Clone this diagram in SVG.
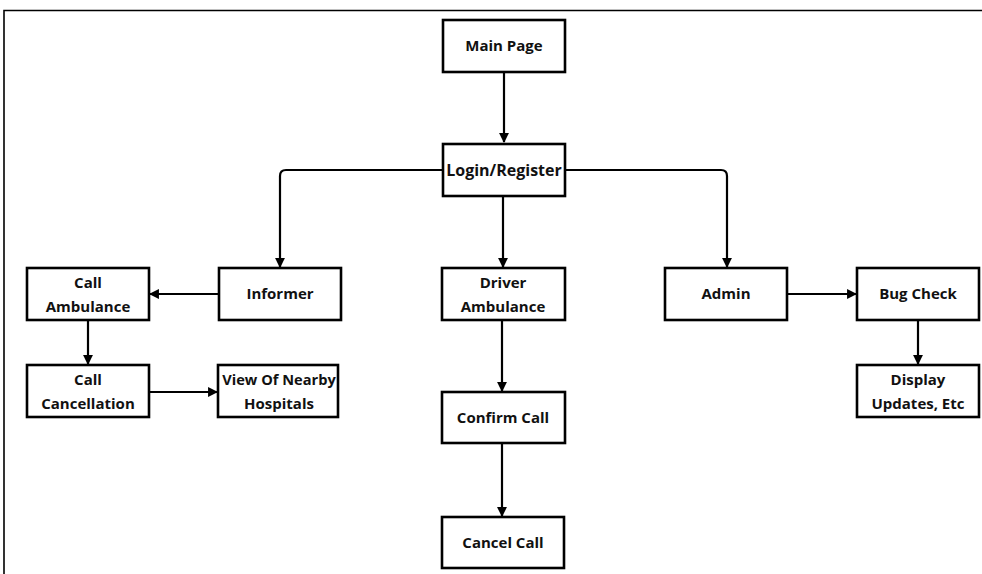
<svg xmlns="http://www.w3.org/2000/svg" width="982" height="574" viewBox="0 0 982 574">
<defs>
<marker id="ah" viewBox="0 0 10 10" refX="9" refY="5" markerWidth="4.5" markerHeight="4.5" orient="auto" markerUnits="strokeWidth">
<path d="M0,0 L10,5 L0,10 z" fill="#000"/>
</marker>
</defs>
<style>
.box{fill:#fff;stroke:#000;stroke-width:2.6}
.t{font-family:"Open Sans","Liberation Sans",sans-serif;font-weight:bold;font-size:15px;fill:#111;text-anchor:middle}
.c{fill:none;stroke:#000;stroke-width:2.2;marker-end:url(#ah)}
.f{fill:none;stroke:#000;stroke-width:1.6}
</style>
<rect width="982" height="574" fill="#fff"/>
<path class="f" d="M4,574 V10.5 H982"/>
<g id="connectors">
<path class="c" d="M504,72 V142"/>
<path class="c" d="M443,170 H286 Q280,170 280,176 V267"/>
<path class="c" d="M565,170 H721 Q727,170 727,176 V267"/>
<path class="c" d="M503,196 V267"/>
<path class="c" d="M218,294 H150"/>
<path class="c" d="M88,320 V364"/>
<path class="c" d="M149,392 H217"/>
<path class="c" d="M502,320 V391"/>
<path class="c" d="M502,443 V516"/>
<path class="c" d="M787,294 H856"/>
<path class="c" d="M918,320 V364"/>
</g>
<g id="main-page"><rect class="box" x="443" y="20" width="122" height="52"/><text class="t" x="504" y="51">Main Page</text></g>
<g id="login-register"><rect class="box" x="443" y="144" width="122" height="52"/><text class="t" x="504" y="175.5" style="font-size:16px">Login/Register</text></g>
<g id="informer"><rect class="box" x="219" y="268" width="122" height="52"/><text class="t" x="280" y="299">Informer</text></g>
<g id="call-ambulance"><rect class="box" x="27" y="268" width="122" height="52"/><text class="t" x="88" y="288">Call</text><text class="t" x="88" y="312">Ambulance</text></g>
<g id="call-cancellation"><rect class="box" x="27" y="365" width="122" height="52"/><text class="t" x="88" y="385">Call</text><text class="t" x="88" y="409">Cancellation</text></g>
<g id="view-hospitals"><rect class="box" x="218" y="365" width="120" height="52"/><text class="t" x="279" y="385" style="font-size:14.6px">View Of Nearby</text><text class="t" x="279" y="409">Hospitals</text></g>
<g id="driver-ambulance"><rect class="box" x="442" y="268" width="123" height="52"/><text class="t" x="503" y="288">Driver</text><text class="t" x="503" y="312">Ambulance</text></g>
<g id="confirm-call"><rect class="box" x="442" y="392" width="123" height="51"/><text class="t" x="503" y="423">Confirm Call</text></g>
<g id="cancel-call"><rect class="box" x="442" y="517" width="122" height="51"/><text class="t" x="503" y="548">Cancel Call</text></g>
<g id="admin"><rect class="box" x="665" y="268" width="122" height="52"/><text class="t" x="726" y="299">Admin</text></g>
<g id="bug-check"><rect class="box" x="857" y="268" width="122" height="52"/><text class="t" x="918" y="299">Bug Check</text></g>
<g id="display-updates"><rect class="box" x="857" y="365" width="122" height="52"/><text class="t" x="918" y="385">Display</text><text class="t" x="918" y="409">Updates, Etc</text></g>
</svg>
